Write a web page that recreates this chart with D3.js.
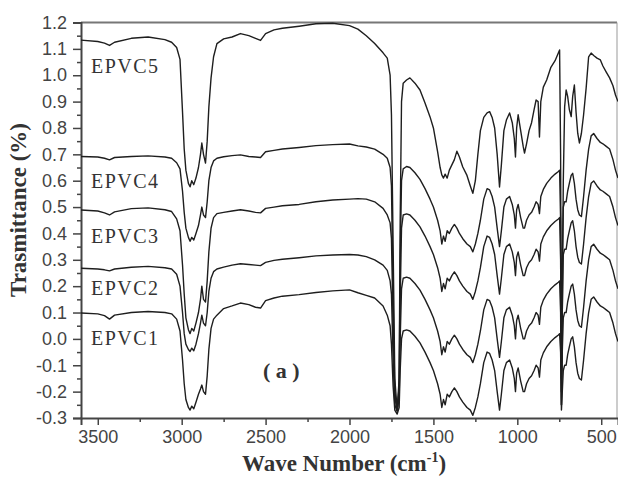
<!DOCTYPE html>
<html><head><meta charset="utf-8">
<script src="https://cdn.jsdelivr.net/npm/d3@7"></script>
<style>html,body{margin:0;padding:0;background:#fff;} svg{display:block;}</style>
</head><body>
<svg id="chart" width="618" height="478"></svg>
<script>
const wavenumbers = [
 3600, 3500, 3460, 3430, 3400, 3300, 3200, 3100, 3060, 3030,
 3010, 2995, 2985, 2975, 2960, 2950, 2940, 2928, 2915, 2900,
 2888, 2880, 2870, 2858, 2848, 2838, 2825, 2810, 2790, 2750,
 2700, 2650, 2600, 2560, 2530, 2500, 2450, 2400, 2300, 2200,
 2100, 2000, 1950, 1900, 1850, 1800, 1775, 1758, 1750, 1740,
 1730, 1716, 1704, 1698, 1690, 1680, 1660, 1640, 1610, 1580,
 1550, 1520, 1500, 1475, 1460, 1450, 1440, 1430, 1418, 1405,
 1390, 1375, 1360, 1345, 1325, 1300, 1280, 1265, 1250, 1235,
 1220, 1200, 1180, 1165, 1150, 1135, 1120, 1106, 1095, 1080,
 1065, 1046, 1030, 1018, 1011, 1004, 995, 980, 965, 957,
 945, 930, 915, 900, 888, 876, 868, 860, 845, 825,
 800, 775, 755, 748, 742, 737, 732, 726, 718, 709,
 700, 690, 679, 670, 660, 650, 640, 630, 618, 605,
 590, 575, 560, 545, 525, 505, 490, 470, 450, 430,
 415, 400];

const epvc5 = [
 1.133, 1.128, 1.122, 1.113, 1.125, 1.140, 1.145, 1.135, 1.125, 1.105,
 1.06, 0.86, 0.72, 0.64, 0.59, 0.577, 0.60, 0.585, 0.61, 0.65,
 0.70, 0.743, 0.70, 0.667, 0.75, 0.88, 0.99, 1.07, 1.12, 1.138,
 1.145, 1.158, 1.15, 1.14, 1.132, 1.158, 1.172, 1.178, 1.186, 1.195,
 1.197, 1.188, 1.175, 1.15, 1.12, 1.085, 1.065, 1.0, 0.85, 0.35,
 -0.15, -0.27, -0.15, 0.45, 0.9, 0.97, 0.982, 0.99, 0.97, 0.944,
 0.895, 0.842, 0.80, 0.71, 0.65, 0.622, 0.61, 0.625, 0.61, 0.64,
 0.66, 0.68, 0.712, 0.69, 0.652, 0.62, 0.58, 0.552, 0.60, 0.70,
 0.79, 0.84, 0.857, 0.862, 0.84, 0.80, 0.70, 0.576, 0.66, 0.79,
 0.83, 0.857, 0.82, 0.76, 0.69, 0.80, 0.85, 0.79, 0.73, 0.705,
 0.74, 0.79, 0.82, 0.87, 0.906, 0.90, 0.766, 0.90, 0.955, 0.982,
 1.03, 1.055, 1.085, 1.096, 0.7, -0.25, 0.1, 0.6, 0.88, 0.944,
 0.92, 0.87, 0.843, 0.92, 0.963, 0.86, 0.78, 0.743, 0.78, 0.85,
 0.95, 1.07, 1.084, 1.075, 1.065, 1.058, 1.035, 1.012, 0.99, 0.96,
 0.925, 0.90];

const epvc4 = [
 0.692, 0.69, 0.685, 0.679, 0.688, 0.692, 0.694, 0.69, 0.685, 0.668,
 0.645, 0.56, 0.48, 0.42, 0.385, 0.37, 0.385, 0.375, 0.40, 0.43,
 0.47, 0.50, 0.47, 0.46, 0.52, 0.60, 0.65, 0.675, 0.685, 0.691,
 0.695, 0.698, 0.692, 0.69, 0.688, 0.71, 0.715, 0.72, 0.726, 0.733,
 0.737, 0.739, 0.732, 0.728, 0.72, 0.70, 0.685, 0.65, 0.58, 0.15,
 -0.2, -0.27, -0.18, 0.3, 0.6, 0.645, 0.654, 0.65, 0.63, 0.605,
 0.57, 0.53, 0.50, 0.45, 0.41, 0.36, 0.39, 0.37, 0.41, 0.40,
 0.42, 0.434, 0.42, 0.40, 0.38, 0.36, 0.35, 0.33, 0.36, 0.40,
 0.45, 0.53, 0.57, 0.565, 0.54, 0.50, 0.42, 0.35, 0.41, 0.50,
 0.53, 0.54, 0.51, 0.47, 0.42, 0.49, 0.51, 0.46, 0.42, 0.42,
 0.45, 0.47, 0.48, 0.50, 0.52, 0.51, 0.475, 0.54, 0.567, 0.59,
 0.61, 0.625, 0.635, 0.64, 0.45, -0.15, 0.3, 0.5, 0.52, 0.52,
 0.56, 0.59, 0.62, 0.628, 0.59, 0.53, 0.49, 0.47, 0.464, 0.54,
 0.64, 0.72, 0.77, 0.779, 0.76, 0.745, 0.74, 0.73, 0.72, 0.68,
 0.64, 0.61];

const epvc3 = [
 0.489, 0.485, 0.478, 0.47, 0.482, 0.494, 0.497, 0.49, 0.483, 0.455,
 0.41, 0.28, 0.17, 0.08, 0.035, 0.02, 0.04, 0.03, 0.06, 0.10,
 0.15, 0.20, 0.15, 0.14, 0.22, 0.33, 0.42, 0.46, 0.475, 0.48,
 0.485, 0.49, 0.485, 0.48, 0.478, 0.495, 0.50, 0.505, 0.51, 0.52,
 0.527, 0.53, 0.532, 0.53, 0.52, 0.495, 0.47, 0.44, 0.38, 0.05,
 -0.22, -0.27, -0.2, 0.15, 0.42, 0.47, 0.474, 0.47, 0.45, 0.425,
 0.39, 0.35, 0.32, 0.27, 0.23, 0.18, 0.21, 0.19, 0.23, 0.22,
 0.24, 0.254, 0.24, 0.22, 0.20, 0.18, 0.17, 0.15, 0.18, 0.22,
 0.27, 0.35, 0.39, 0.385, 0.36, 0.32, 0.24, 0.17, 0.23, 0.32,
 0.35, 0.36, 0.33, 0.29, 0.24, 0.31, 0.33, 0.28, 0.24, 0.24,
 0.27, 0.29, 0.30, 0.32, 0.34, 0.33, 0.295, 0.36, 0.387, 0.41,
 0.43, 0.445, 0.455, 0.46, 0.3, -0.2, 0.1, 0.32, 0.34, 0.34,
 0.38, 0.41, 0.44, 0.448, 0.41, 0.35, 0.31, 0.29, 0.284, 0.36,
 0.46, 0.54, 0.59, 0.599, 0.58, 0.565, 0.56, 0.55, 0.54, 0.50,
 0.46, 0.43];

const epvc2 = [
 0.268, 0.265, 0.262, 0.258, 0.265, 0.272, 0.275, 0.27, 0.265, 0.245,
 0.20, 0.10, 0.02, -0.02, -0.04, -0.048, -0.035, -0.045, -0.02, 0.02,
 0.06, 0.09, 0.06, 0.05, 0.10, 0.18, 0.23, 0.255, 0.265, 0.272,
 0.28, 0.285, 0.282, 0.28, 0.278, 0.29, 0.298, 0.302, 0.308, 0.315,
 0.318, 0.32, 0.318, 0.312, 0.30, 0.28, 0.26, 0.22, 0.17, -0.08,
 -0.25, -0.275, -0.22, 0.0, 0.19, 0.23, 0.234, 0.23, 0.21, 0.185,
 0.15, 0.11, 0.08, 0.03, -0.01, -0.06, -0.03, -0.05, -0.01, -0.02,
 0.0, 0.014, 0.0, -0.02, -0.04, -0.06, -0.07, -0.09, -0.06, -0.02,
 0.03, 0.11, 0.15, 0.145, 0.12, 0.08, 0.0, -0.07, -0.01, 0.08,
 0.11, 0.12, 0.09, 0.05, 0.0, 0.07, 0.09, 0.04, 0.0, 0.0,
 0.03, 0.05, 0.06, 0.08, 0.10, 0.09, 0.055, 0.12, 0.147, 0.17,
 0.19, 0.205, 0.215, 0.22, 0.1, -0.25, -0.05, 0.08, 0.1, 0.1,
 0.14, 0.17, 0.2, 0.208, 0.17, 0.11, 0.07, 0.05, 0.044, 0.12,
 0.22, 0.30, 0.35, 0.359, 0.34, 0.325, 0.32, 0.31, 0.30, 0.26,
 0.22, 0.19];

const epvc1 = [
 0.098, 0.095, 0.088, 0.075, 0.09, 0.10, 0.104, 0.10, 0.095, 0.075,
 0.03, -0.08, -0.17, -0.23, -0.26, -0.27, -0.255, -0.265, -0.24, -0.21,
 -0.19, -0.175, -0.2, -0.21, -0.14, -0.04, 0.04, 0.075, 0.09, 0.115,
 0.125, 0.136, 0.13, 0.12, 0.117, 0.145, 0.155, 0.162, 0.168, 0.176,
 0.182, 0.186, 0.175, 0.165, 0.155, 0.125, 0.09, 0.05, -0.02, -0.18,
 -0.27, -0.285, -0.26, -0.12, 0.0, 0.03, 0.034, 0.03, 0.01, -0.015,
 -0.05, -0.09, -0.12, -0.17, -0.21, -0.26, -0.23, -0.25, -0.21, -0.22,
 -0.2, -0.186, -0.2, -0.22, -0.24, -0.26, -0.27, -0.29, -0.26, -0.22,
 -0.17, -0.09, -0.05, -0.055, -0.08, -0.12, -0.2, -0.27, -0.21, -0.12,
 -0.09, -0.08, -0.11, -0.15, -0.2, -0.13, -0.11, -0.16, -0.2, -0.2,
 -0.17, -0.15, -0.14, -0.12, -0.1, -0.11, -0.145, -0.08, -0.053, -0.03,
 -0.01, 0.005, 0.015, 0.02, -0.05, -0.27, -0.2, -0.12, -0.1, -0.1,
 -0.06, -0.03, 0.0, 0.008, -0.03, -0.09, -0.13, -0.15, -0.156, -0.08,
 0.02, 0.10, 0.15, 0.159, 0.14, 0.125, 0.12, 0.11, 0.10, 0.06,
 0.02, -0.01];

const seriesNames = ["EPVC5", "EPVC4", "EPVC3", "EPVC2", "EPVC1"];
const seriesValues = [epvc5, epvc4, epvc3, epvc2, epvc1];
const yTicks = [-0.3,-0.2,-0.1,0.0,0.1,0.2,0.3,0.4,0.5,0.6,0.7,0.8,0.9,1.0,1.1,1.2];
const yMinor = [-0.25,-0.15,-0.05,0.05,0.15,0.25,0.35,0.45,0.55,0.65,0.75,0.85,0.95,1.05,1.15];
const xTicks = [3500,3000,2500,2000,1500,1000,500];
const xMinor = [3250,2750,2250,1750,1250,750];

const svg = d3.select("#chart");
svg.append("rect").attr("width",618).attr("height",478).attr("fill","#fff");

const x = d3.scaleLinear().domain([3600, 400]).range([81, 618]);
const y = d3.scaleLinear().domain([-0.3, 1.2]).range([418, 22.5]);

const sans = "'Liberation Sans', Arial, sans-serif";
const serif = "'Liberation Serif', 'Times New Roman', serif";

// top & right frame
svg.append("line").attr("x1",81).attr("x2",617).attr("y1",y(1.2)).attr("y2",y(1.2))
  .attr("stroke","#777").attr("stroke-width",2);
svg.append("line").attr("x1",617).attr("x2",617).attr("y1",y(1.2)).attr("y2",y(-0.3))
  .attr("stroke","#999").attr("stroke-width",1);

// y axis
svg.append("g").attr("transform","translate(81,0)")
  .call(d3.axisLeft(y).tickValues(yTicks).tickSize(8).tickPadding(6).tickFormat(d => d.toFixed(1)));
svg.append("g").attr("transform","translate(81,0)")
  .call(d3.axisLeft(y).tickValues(yMinor).tickSize(4).tickFormat(""))
  .call(g => g.select(".domain").remove());
// x axis
svg.append("g").attr("transform","translate(0,418)")
  .call(d3.axisBottom(x).tickValues(xTicks).tickSize(7).tickPadding(5).tickFormat(d3.format("d")));
svg.append("g").attr("transform","translate(0,418)")
  .call(d3.axisBottom(x).tickValues(xMinor).tickSize(4).tickFormat(""))
  .call(g => g.select(".domain").remove());

svg.selectAll(".domain").attr("stroke","#444").attr("stroke-width",2);
svg.selectAll(".tick line").attr("stroke","#444").attr("stroke-width",1.5);
svg.selectAll(".tick text").attr("font-family",sans).attr("font-size",18).attr("fill","#444");

// curves
const line = d3.line().x((d,i) => x(wavenumbers[i])).y(d => y(d));
svg.append("g").selectAll("path").data(seriesValues).join("path")
  .attr("d", d => line(d))
  .attr("fill","none").attr("stroke","#1e1e1e").attr("stroke-width",1.4)
  .attr("stroke-linejoin","round");

// curve labels
const labelY = [73, 188, 243, 295, 345];
svg.append("g").selectAll("text").data(seriesNames).join("text")
  .attr("x", 91).attr("y", (d,i) => labelY[i])
  .attr("font-family", serif).attr("font-size", 20).attr("letter-spacing", 1.5)
  .attr("fill","#333").text(d => d);

svg.append("text").attr("x",263).attr("y",378)
  .attr("font-family",serif).attr("font-size",22).attr("font-weight","bold")
  .attr("fill","#333").attr("xml:space","preserve").text("( a )");

// axis titles
const xt = svg.append("text").attr("x",344).attr("y",471).attr("text-anchor","middle")
  .attr("font-family",serif).attr("font-size",23).attr("font-weight","bold").attr("fill","#333");
xt.append("tspan").text("Wave Number (cm");
xt.append("tspan").attr("font-size",14).attr("dy",-9).text("-1");
xt.append("tspan").attr("dy",9).text(")");

svg.append("text").attr("transform","translate(26,210) rotate(-90)").attr("text-anchor","middle")
  .attr("font-family",serif).attr("font-size",23).attr("font-weight","bold").attr("fill","#333")
  .text("Trasmittance (%)");
</script>
</body></html>
